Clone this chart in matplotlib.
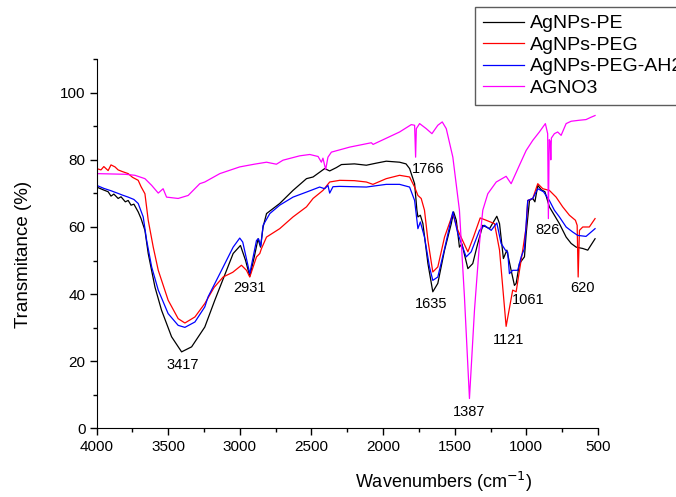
import numpy as np
import matplotlib
matplotlib.use("Agg")
import matplotlib.pyplot as plt
from matplotlib.ticker import MultipleLocator

# --- DATA ---
LABELS = ["AgNPs-PE", "AgNPs-PEG", "AgNPs-PEG-AH2", "AGNO3"]
COLORS = ["#000000", "#ff0000", "#0000ff", "#ff00ff"]

pe_wn = [4000, 3950, 3920, 3900, 3880, 3850, 3830, 3800, 3780, 3760, 3740, 3710, 3690,
	3663, 3640, 3593, 3547, 3477, 3407, 3337, 3245, 3175, 3047, 2996, 2960, 2931, 2900,
	2873, 2856, 2838, 2814, 2722, 2629, 2535, 2489, 2408, 2373, 2326, 2291, 2200, 2117,
	2050, 1978, 1885, 1840, 1815, 1780, 1764, 1757, 1740, 1722, 1687, 1653, 1618, 1571,
	1524, 1508, 1489, 1467, 1450, 1408, 1374, 1339, 1304, 1257, 1206, 1187, 1160, 1136,
	1106, 1083, 1071, 1048, 1013, 1001, 978, 955, 940, 920, 896, 870, 839, 769, 722, 687,
	652, 606, 571, 520]
pe_t = [71.9, 71.0, 70.5, 69.2, 69.8, 68.5, 69.0, 67.5, 67.9, 66.5, 66.8, 64.5, 62.5,
	59.0, 52.1, 42.1, 35.2, 27.3, 22.8, 24.3, 30.2, 38.2, 52.1, 54.5, 50.0, 45.3, 51.0,
	56.5, 54.0, 60.0, 64.0, 67.0, 70.9, 74.4, 74.9, 77.4, 76.7, 77.7, 78.6, 78.8, 78.4,
	79.0, 79.6, 79.3, 78.8, 77.4, 72.9, 65.0, 63.0, 63.5, 61.0, 49.1, 40.7, 43.2, 53.1,
	61.0, 64.5, 62.0, 54.0, 55.0, 47.6, 49.1, 55.1, 60.5, 59.5, 63.2, 61.0, 50.6, 53.1,
	47.1, 42.6, 43.2, 49.1, 51.1, 58.0, 67.9, 68.5, 67.5, 72.4, 71.1, 70.5, 66.0, 61.0,
	57.0, 55.1, 54.0, 53.6, 53.1, 56.5]

peg_wn = [4000, 3970, 3950, 3920, 3900, 3872, 3850, 3820, 3780, 3750, 3710, 3690, 3663,
	3640, 3605, 3570, 3501, 3431, 3384, 3314, 3245, 3180, 3117, 3050, 2989, 2954, 2931,
	2884, 2861, 2850, 2814, 2722, 2629, 2535, 2489, 2420, 2373, 2303, 2200, 2117, 2071,
	1978, 1885, 1815, 1780, 1757, 1734, 1711, 1687, 1653, 1618, 1571, 1513, 1478, 1408,
	1369, 1322, 1280, 1222, 1187, 1141, 1095, 1071, 1048, 1025, 1001, 990, 955, 920, 885,
	839, 792, 746, 699, 657, 645, 638, 629, 606, 560, 520]
peg_t = [77.4, 77.0, 78.0, 76.8, 78.5, 77.9, 77.0, 76.5, 75.9, 74.8, 73.9, 72.0, 69.9,
	62.0, 54.0, 47.1, 38.2, 32.7, 31.4, 33.2, 37.2, 42.0, 45.1, 46.5, 48.6, 47.1, 45.1,
	51.1, 52.1, 53.5, 57.0, 59.5, 63.0, 66.0, 68.5, 70.9, 73.4, 73.9, 73.8, 73.4, 72.7,
	74.4, 75.4, 74.9, 71.9, 69.4, 68.5, 65.0, 56.0, 46.6, 48.1, 57.0, 64.0, 59.0, 52.6,
	57.0, 62.7, 62.0, 61.0, 53.1, 30.4, 41.2, 40.7, 47.0, 53.1, 60.0, 67.9, 68.5, 72.9,
	71.4, 70.9, 68.9, 66.0, 63.5, 62.0, 60.5, 45.1, 59.0, 60.0, 60.0, 62.5]

ah2_wn = [4000, 3950, 3900, 3850, 3820, 3780, 3740, 3710, 3675, 3651, 3616, 3570, 3501,
	3431, 3384, 3314, 3245, 3222, 3140, 3047, 3001, 2980, 2931, 2884, 2870, 2854, 2838,
	2791, 2722, 2629, 2535, 2443, 2408, 2385, 2373, 2350, 2303, 2117, 1978, 1885, 1815,
	1780, 1757, 1740, 1711, 1676, 1653, 1618, 1571, 1513, 1478, 1420, 1385, 1327, 1292,
	1245, 1206, 1176, 1146, 1130, 1118, 1095, 1060, 1036, 1013, 990, 955, 920, 880, 839,
	804, 769, 722, 676, 641, 583, 520]
ah2_t = [72.4, 71.5, 70.8, 70.0, 69.5, 68.9, 68.2, 67.0, 63.0, 56.0, 48.1, 41.2, 34.2,
	30.7, 30.1, 31.7, 36.2, 39.2, 46.1, 54.0, 56.7, 55.5, 46.1, 56.0, 56.5, 54.3, 60.5,
	64.0, 66.5, 68.9, 70.4, 71.9, 71.4, 72.4, 70.1, 72.0, 72.1, 71.9, 72.7, 72.7, 71.9,
	67.9, 59.5, 61.5, 57.0, 48.1, 44.1, 45.1, 53.5, 64.5, 58.0, 51.1, 52.6, 59.0, 60.5,
	59.0, 61.2, 55.1, 53.1, 52.5, 46.1, 47.1, 47.1, 51.1, 53.6, 67.9, 68.5, 71.4, 70.5,
	67.9, 65.0, 63.0, 60.0, 58.5, 57.5, 57.2, 59.5]

agno3_wn = [4000, 3800, 3733, 3663, 3616, 3570, 3536, 3512, 3431, 3361, 3280, 3245, 3140,
	3001, 2900, 2814, 2745, 2699, 2582, 2512, 2454, 2431, 2420, 2401, 2385, 2361, 2233,
	2082, 2070, 1885, 1803, 1780, 1773, 1768, 1745, 1699, 1659, 1618, 1587, 1559, 1513,
	1467, 1432, 1397, 1362, 1327, 1304, 1269, 1210, 1141, 1106, 1048, 1001, 955, 909,
	867, 851, 846, 840, 833, 829, 825, 804, 781, 757, 722, 687, 629, 583, 548, 520]
agno3_t = [75.9, 75.7, 75.4, 74.4, 72.4, 70.1, 71.4, 68.9, 68.5, 69.4, 72.9, 73.4, 75.9,
	77.9, 78.7, 79.3, 78.7, 79.9, 81.2, 81.6, 81.0, 79.3, 80.5, 77.1, 80.8, 82.3, 83.8,
	85.1, 84.6, 88.3, 90.5, 90.3, 80.8, 89.3, 90.8, 89.3, 87.8, 90.3, 91.3, 89.3, 80.8,
	65.0, 39.2, 8.9, 35.2, 55.1, 65.0, 69.9, 73.4, 75.1, 72.9, 78.4, 82.8, 85.8, 88.3,
	90.8, 87.8, 62.5, 86.0, 85.5, 80.0, 86.5, 87.8, 88.3, 87.3, 90.8, 91.5, 91.8, 92.0,
	92.7, 93.2]

# peak labels: (text, wavenumber, transmittance)
PEAK_TEXT = ["3417", "2931", "1766", "1635", "1387", "1121", "1061", "826", "620"]
PEAK_WN = [3401, 2931, 1687, 1664, 1397, 1125, 990, 851, 611]
PEAK_T = [18.8, 41.7, 77.4, 37.2, 4.9, 26.3, 38.2, 59.0, 41.7]

# --- PLOT ---
plt.rcParams["font.family"] = ["Liberation Sans", "DejaVu Sans"]

fig = plt.figure(figsize=(6.76, 4.97), dpi=100)
ax = fig.add_axes([0.143, 0.138, 0.7415, 0.743])

series = [(pe_wn, pe_t), (peg_wn, peg_t), (ah2_wn, ah2_t), (agno3_wn, agno3_t)]
for (wn, t), lab, col in zip(series, LABELS, COLORS):
	ax.plot(wn, t, color=col, lw=0.9, label=lab)

for txt, x, y in zip(PEAK_TEXT, PEAK_WN, PEAK_T):
	ax.text(x, y, txt, ha="center", va="center", fontsize=10.5)

ax.set_xlim(4000, 500)
ax.set_ylim(0, 110)
ax.xaxis.set_major_locator(MultipleLocator(500))
ax.xaxis.set_minor_locator(MultipleLocator(250))
ax.yaxis.set_minor_locator(MultipleLocator(10))
ax.set_yticks([0, 20, 40, 60, 80, 100])
ax.tick_params(which="major", direction="out", length=5, width=1, labelsize=11, pad=3)
ax.tick_params(which="minor", direction="out", length=3, width=1)
for side in ["top", "right"]:
	ax.spines[side].set_visible(False)

ax.set_xlabel("Wavenumbers (cm$^{-1}$)", fontsize=13)
ax.xaxis.set_label_coords(0.693, -0.112)
ax.set_ylabel("Transmitance (%)", fontsize=13.5)
ax.yaxis.set_label_coords(-0.13, 0.47)

# legend sits partly outside the figure, like the original (clipped at the right)
leg = ax.legend(loc="upper left", bbox_to_anchor=(0.7027, 0.986),
	bbox_transform=fig.transFigure, fontsize=14, frameon=True, fancybox=False,
	borderaxespad=0, handlelength=2.1, handletextpad=0.35, labelspacing=0.2,
	borderpad=0.4)
leg.get_frame().set_edgecolor("#333333")
leg.get_frame().set_linewidth(1.0)

fig.savefig("out.png", dpi=100)
